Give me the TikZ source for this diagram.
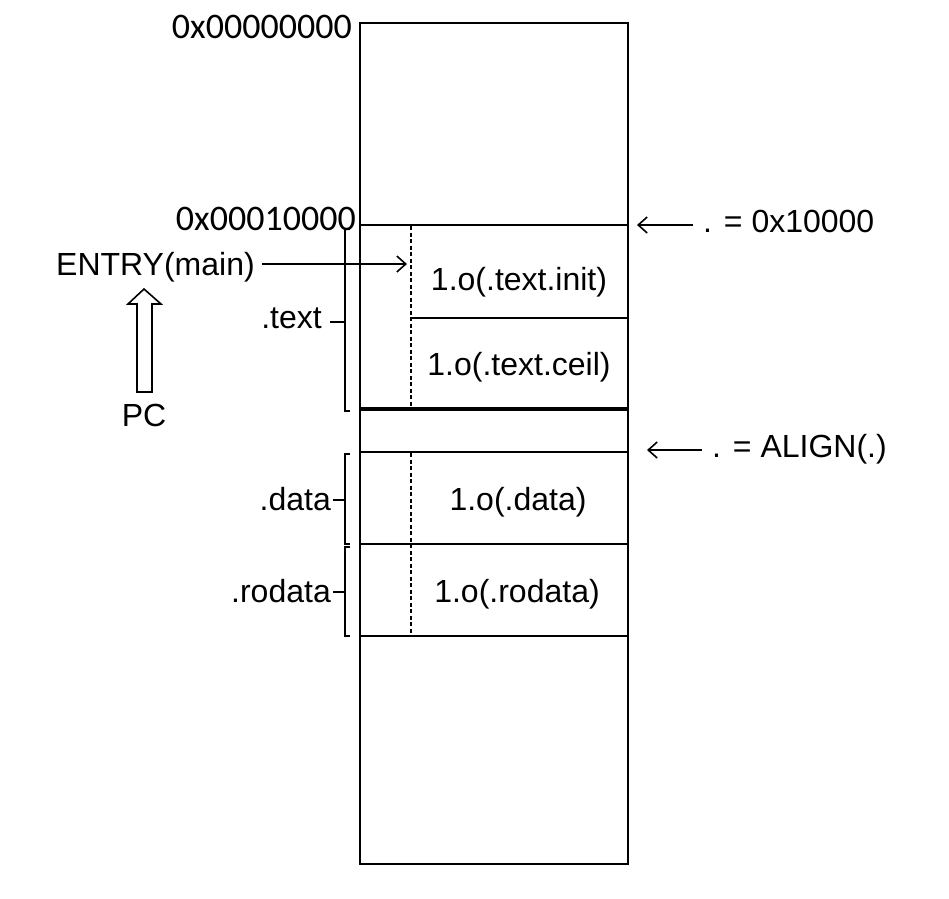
\documentclass[tikz,border=0pt]{standalone}
\usepackage{fontspec}
\setmainfont{Liberation Sans}
\newfontfamily\hexfont{Carlito}
\usetikzlibrary{arrows.meta}
\tikzset{
  lbl/.style={inner sep=0pt, font=\fontsize{32}{38}\selectfont},
  hex/.style={inner sep=0pt, font=\hexfont\fontsize{36}{42}\selectfont},
  wall/.style={line width=2.2pt},
  dashsep/.style={line width=1.6pt, dash pattern=on 4pt off 2.5pt},
  brk/.style={line width=1.7pt},
  ptr/.style={line width=1.6pt, -{Straight Barb[length=9pt,width=16pt,line width=1.6pt]}},
}
\begin{document}
\begin{tikzpicture}[x=1pt,y=-1pt]
\useasboundingbox (0,0) rectangle (949,898);
% memory block
\draw[wall] (360,23) rectangle (628,864);
\draw[wall] (360,225) -- (628,225);
\draw[wall] (411,318) -- (628,318);
\draw[line width=4.5pt] (360,409) -- (628,409);
\draw[wall] (360,452) -- (628,452);
\draw[wall] (360,544) -- (628,544);
\draw[wall] (360,636) -- (628,636);
\draw[dashsep] (411,226) -- (411,408);
\draw[dashsep] (411,453) -- (411,636);
% section contents
\node[lbl, anchor=base] (init) at (519,290) {1.o(.text.init)};
\node[lbl, anchor=base] (ceil) at (519,375) {1.o(.text.ceil)};
\node[lbl, anchor=base] (data) at (518,510) {1.o(.data)};
\node[lbl, anchor=base] (rodata) at (517,602) {1.o(.rodata)};
% addresses
\node[hex, anchor=base east] (a0) at (352,38) {0x00000000};
\node[hex, anchor=base east] (a1) at (356,230) {0x00010000};
% brackets
\draw[brk] (350,229) -- (345,229) -- (345,411) -- (350,411);
\draw[brk] (330,322) -- (345,322);
\draw[brk] (350,454) -- (345,454) -- (345,544) -- (350,544);
\draw[brk] (333,500) -- (345,500);
\draw[brk] (350,547) -- (345,547) -- (345,636) -- (350,636);
\draw[brk] (333,592) -- (345,592);
\node[lbl, anchor=base east] (stext) at (322,328) {.text};
\node[lbl, anchor=base east] (sdata) at (331,510) {.data};
\node[lbl, anchor=base east] (srodata) at (331,602) {.rodata};
% entry
\node[lbl, anchor=base west] (entry) at (56,275) {ENTRY(main)};
\coordinate (entrytgt) at (407,264);
\draw[ptr] (entry.east |- entrytgt) ++(7,0) -- (entrytgt);
\node[lbl, anchor=base] (pc) at (144,426) {PC};
\draw[line width=1.6pt, line join=miter] (137,392) -- (137,304) -- (128,304) -- (144,289) -- (161,304) -- (152,304) -- (152,392) -- cycle;
% right notes
\node[lbl, anchor=base west] (n1) at (703,232) {. = 0x10000};
\coordinate (n1tgt) at (637,225);
\draw[ptr] (693,225) -- (n1tgt);
\node[lbl, anchor=base west] (n2) at (712,457) {. = ALIGN(.)};
\coordinate (n2tgt) at (647,450);
\draw[ptr] (702,450) -- (n2tgt);
\end{tikzpicture}
\end{document}
